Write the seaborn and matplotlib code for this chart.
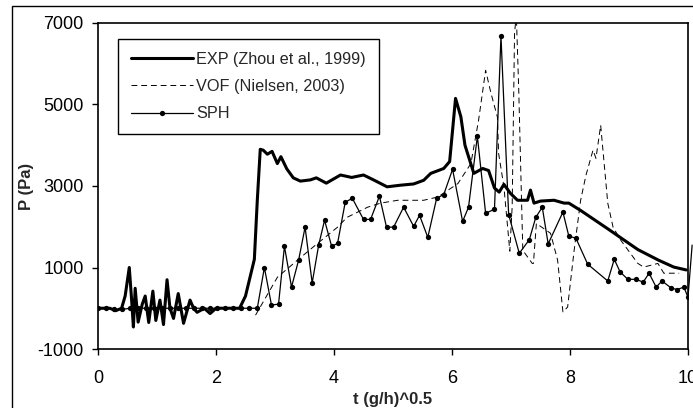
import numpy as np
import pandas as pd
import matplotlib
matplotlib.use("Agg")
import matplotlib.pyplot as plt
import seaborn as sns

# ---- data ----
exp_t = [0, 0.2, 0.3, 0.4, 0.46, 0.53, 0.57, 0.6, 0.63, 0.68, 0.75, 0.8, 0.86, 0.93, 0.98,
         1.05, 1.11, 1.17, 1.22, 1.28, 1.36, 1.45, 1.56, 1.62, 1.68, 1.8, 1.9, 2.0, 2.2, 2.4,
         2.5, 2.6, 2.65, 2.7, 2.75, 2.8, 2.87, 2.95, 3.04, 3.1, 3.2, 3.31, 3.43, 3.6, 3.7,
         3.87, 4.11, 4.3, 4.5, 4.67, 4.9, 5.13, 5.35, 5.52, 5.64, 5.86, 5.96, 6.06, 6.15,
         6.22, 6.37, 6.52, 6.62, 6.72, 6.8, 6.88, 6.99, 7.11, 7.28, 7.33, 7.39, 7.5, 7.73,
         7.9, 7.98, 8.18, 8.64, 9.15, 9.5, 9.76, 9.97]
exp_p = [0, 0, -60, 0, 300, 1000, 200, -460, 490, -340, 100, 300, -350, 420, -300,
         200, -400, 700, 0, -250, 360, -370, 200, 0, -100, 0, -130, 0, 0, 0,
         300, 900, 1200, 2650, 3900, 3880, 3780, 3850, 3550, 3720, 3420, 3200, 3120, 3150, 3200,
         3070, 3270, 3210, 3270, 3150, 2980, 3020, 3050, 3140, 3310, 3430, 3600, 5150, 4700,
         4000, 3310, 3430, 3380, 2950, 2850, 3040, 2820, 2650, 2650, 2900, 2580, 2630, 2650,
         2580, 2580, 2400, 1950, 1440, 1180, 1010, 940]

vof_t = [2.67, 3.04, 3.38, 3.72, 4.06, 4.22, 4.57, 4.79, 5.08, 5.52, 5.76, 6.1, 6.32, 6.45,
         6.57, 6.66, 6.77, 6.79, 6.88, 6.98, 7.02, 7.06, 7.09, 7.13, 7.2, 7.36, 7.38, 7.43,
         7.67, 7.79, 7.88, 7.96, 8.07, 8.18, 8.27, 8.39, 8.44, 8.52, 8.64, 8.73, 8.86, 9.15,
         9.25, 9.49, 9.59, 9.85]
vof_p = [-170, 760, 1180, 1590, 1990, 2230, 2480, 2580, 2650, 2650, 2730, 3060, 3550, 4610,
         5840, 5280, 4690, 3800, 2980, 1400, 2500, 6750, 7200, 5420, 1420, 1100, 1100, 2080,
         1840, 1180, -90, 30, 1420, 2650, 3260, 3880, 3680, 4490, 2580, 1990, 1670, 1100,
         1010, 1100, 860, 860]

sph_t = list(np.round(np.linspace(0, 2.7, 21), 3)) + [
    2.82, 2.94, 3.06, 3.16, 3.28, 3.4, 3.51, 3.63, 3.74, 3.84, 3.96, 4.06, 4.19, 4.31,
    4.5, 4.62, 4.77, 4.89, 5.01, 5.18, 5.35, 5.45, 5.59, 5.74, 5.86, 6.01, 6.18, 6.28,
    6.43, 6.57, 6.72, 6.83, 6.96, 7.14, 7.31, 7.42, 7.53, 7.63, 7.88, 7.98, 8.1, 8.3,
    8.64, 8.75, 8.85, 8.98, 9.12, 9.24, 9.34, 9.46, 9.56, 9.72, 9.82, 9.93, 10.0]
sph_p = [0, 0, -30, -30, 0, 0, 0, 0, 0, 0, 0, 0, 0, 0, 0, 0, 0, 0, 0, 0, 0] + [
    1000, 80, 100, 1520, 520, 1180, 1990, 620, 1550, 2160, 1520, 1590, 2600, 2700,
    2180, 2180, 2750, 1990, 1990, 2480, 2010, 2280, 1740, 2700, 2790, 3410, 2130, 2480,
    4220, 2330, 2430, 6680, 2300, 1350, 1680, 2230, 2480, 1580, 2360, 1770, 1720, 1080,
    670, 1200, 890, 710, 710, 640, 860, 520, 670, 490, 460, 520, 270]
# continuation of SPH just past the right edge of the axes
sph_tail_t = [10.0, 10.07]
sph_tail_p = [270, 1550]

labels = ["EXP (Zhou et al., 1999)", "VOF (Nielsen, 2003)", "SPH"]
x_ticks = [0, 2, 4, 6, 8, 10]
y_ticks = [-1000, 1000, 3000, 5000, 7000]

# ---- plot ----
sns.set_style("white")
plt.rcParams['font.family'] = ['Liberation Sans', 'DejaVu Sans']
plt.rcParams['axes.unicode_minus'] = False

fig = plt.figure(figsize=(6.93, 4.08), dpi=100)
ax = fig.add_axes([98/693, 1 - 349/408, 590/693, 326/408])

sns.lineplot(x=exp_t, y=exp_p, ax=ax, color='black', linewidth=2.2, sort=False,
             estimator=None, label=labels[0])
sns.lineplot(x=vof_t, y=vof_p, ax=ax, color='black', linewidth=0.7, sort=False,
             estimator=None, label=labels[1], dashes=False)
ax.lines[-1].set_linestyle((0, (6, 4)))
sns.lineplot(x=sph_t, y=sph_p, ax=ax, color='black', linewidth=0.9, sort=False,
             estimator=None, label=labels[2], marker='o', markersize=3.8,
             markeredgewidth=0)
sns.lineplot(x=sph_tail_t, y=sph_tail_p, ax=ax, color='black', linewidth=0.9,
             sort=False, estimator=None, legend=False)
ax.lines[-1].set_clip_on(False)

ax.set_xlim(0, 10)
ax.set_ylim(-1000, 7000)
ax.set_xticks(x_ticks)
ax.set_yticks(y_ticks)
ax.tick_params(axis='both', direction='out', width=1, colors='black',
               labelsize=13, bottom=True, left=True)
ax.tick_params(axis='x', length=4, pad=11)
ax.tick_params(axis='y', length=4.3, pad=6)
for s in ax.spines.values():
    s.set_visible(True)
    s.set_color('black')
    s.set_linewidth(1.2)

ax.set_xlabel("t (g/h)^0.5", fontsize=12, fontweight='bold')
ax.set_ylabel("P (Pa)", fontsize=12, fontweight='bold')
ax.xaxis.set_label_coords(0.5, (349 - 392) / 326)
ax.yaxis.set_label_coords((34 - 98) / 590, 0.5)

leg = ax.legend(loc='upper left', bbox_to_anchor=(0.034, 0.951), borderaxespad=0,
                frameon=True, fancybox=False, shadow=False, fontsize=11.7,
                handlelength=3.8, handletextpad=0.2, labelspacing=0.75,
                borderpad=0.8)
leg.get_frame().set_edgecolor('black')
leg.get_frame().set_linewidth(1.0)
leg.get_frame().set_alpha(1)

# outer frame of the original chart
fig.patches.append(plt.Rectangle((12/693, -0.05), 1.0, 1 - 6/408 + 0.05,
                                 transform=fig.transFigure, fill=False,
                                 edgecolor='black', linewidth=1.0))

fig.savefig("out.png", dpi=100, facecolor='white')
